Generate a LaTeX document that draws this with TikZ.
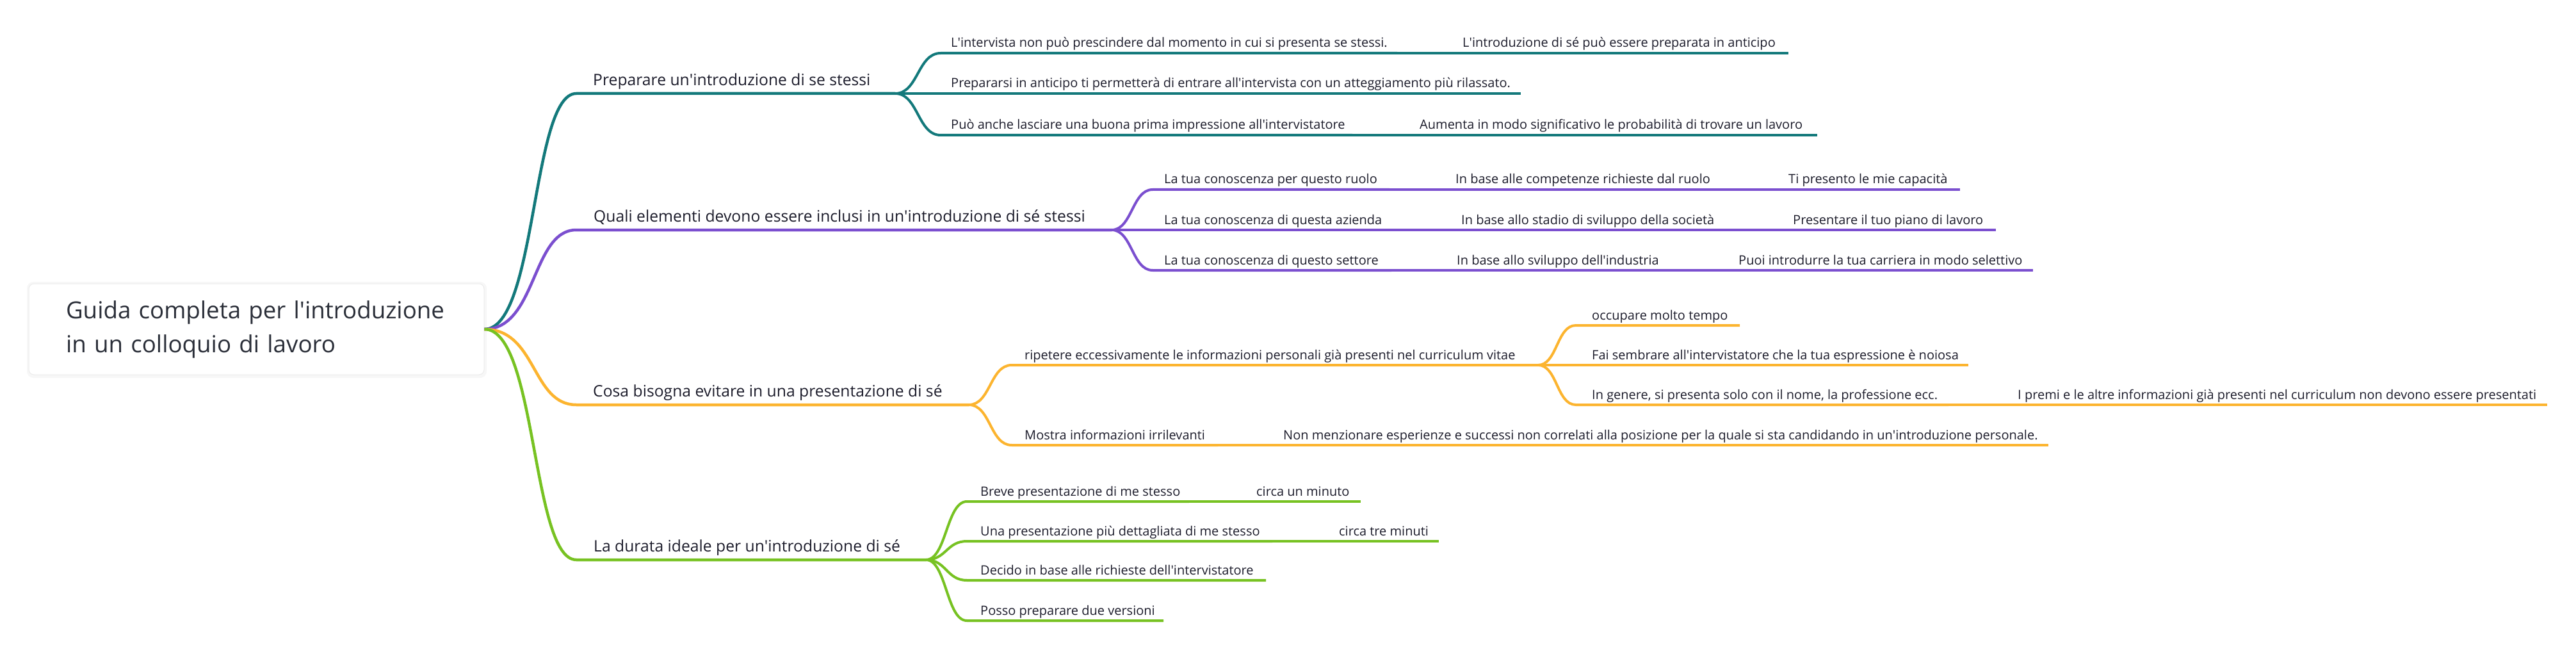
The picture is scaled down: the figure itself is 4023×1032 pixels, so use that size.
\documentclass[tikz,border=0pt]{standalone}
\usepackage{fontspec}
\setmainfont{Open Sans}
\definecolor{teal1}{HTML}{13797B}
\definecolor{purp}{HTML}{7B4FCF}
\definecolor{orng}{HTML}{FCB42F}
\definecolor{grn}{HTML}{77C222}
\definecolor{txt}{HTML}{1C1C2B}
\definecolor{ttl}{HTML}{2A2E38}
\newcommand\ap{\textquotesingle}
\newcommand\mmn[7]{\coordinate (#1-s) at (#3,#6);\coordinate (#1-e) at (#5,#6);\node[#2] (#1) at (#4,#6) {#7};}
\begin{document}
\begin{tikzpicture}[x=1pt,y=-1pt,
  lone/.style={font=\fontsize{24.7}{28}\selectfont, text=txt, inner sep=0pt, anchor=base west, yshift=12.5pt},
  ltwo/.style={font=\fontsize{20}{24}\selectfont, text=txt, inner sep=0pt, anchor=base west, yshift=9pt},
  br/.style={line width=4.5pt},
  sub/.style={line width=4pt},
  rootbox/.style={draw=black!8, line width=1pt, fill=white, rounded corners=8pt, minimum width=711pt, minimum height=142pt, inner xsep=58pt, text width=595pt, align=left, text=ttl, font=\fontsize{36.7}{48}\selectfont}
]
\useasboundingbox (0,0) rectangle (4023,1032);
\fill[black!3, rounded corners=10pt] (42,440) rectangle (760,590);
\node[rootbox] (root) at (400.5,514) {\vspace*{5pt}Guida completa per l\ap introduzione\\in un colloquio di lavoro};

% level 1
\mmn{A}{lone}{900}{926}{1398}{146}{Preparare un\ap introduzione di se stessi}
\mmn{B}{lone}{900}{927}{1736}{359}{Quali elementi devono essere inclusi in un\ap introduzione di sé stessi}
\mmn{C}{lone}{900}{926}{1513}{632}{Cosa bisogna evitare in una presentazione di sé}
\mmn{D}{lone}{900}{927}{1446}{874}{La durata ideale per un\ap introduzione di sé}

% level 2 - A
\mmn{A1}{ltwo}{1469}{1485}{2182}{83}{L\ap intervista non può prescindere dal momento in cui si presenta se stessi.}
\mmn{A1a}{ltwo}{2182}{2284}{2793}{83}{L\ap introduzione di sé può essere preparata in anticipo}
\mmn{A2}{ltwo}{1469}{1485}{2375}{146}{Prepararsi in anticipo ti permetterà di entrare all\ap intervista con un atteggiamento più rilassato.}
\mmn{A3}{ltwo}{1469}{1485}{2112}{211}{Può anche lasciare una buona prima impressione all\ap intervistatore}
\mmn{A3a}{ltwo}{2112}{2217}{2838}{211}{Aumenta in modo significativo le probabilità di trovare un lavoro}

% level 2 - B
\mmn{B1}{ltwo}{1800}{1818}{2170}{296}{La tua conoscenza per questo ruolo}
\mmn{B1a}{ltwo}{2170}{2273}{2691}{296}{In base alle competenze richieste dal ruolo}
\mmn{B1b}{ltwo}{2691}{2793}{3061}{296}{Ti presento le mie capacità}
\mmn{B2}{ltwo}{1800}{1818}{2177}{359}{La tua conoscenza di questa azienda}
\mmn{B2a}{ltwo}{2177}{2282}{2697}{359}{In base allo stadio di sviluppo della società}
\mmn{B2b}{ltwo}{2697}{2800}{3117}{359}{Presentare il tuo piano di lavoro}
\mmn{B3}{ltwo}{1800}{1818}{2173}{422}{La tua conoscenza di questo settore}
\mmn{B3a}{ltwo}{2173}{2275}{2611}{422}{In base allo sviluppo dell\ap industria}
\mmn{B3b}{ltwo}{2611}{2715}{3175}{422}{Puoi introdurre la tua carriera in modo selettivo}

% level 2 - C
\mmn{C1}{ltwo}{1580}{1600}{2402}{570}{ripetere eccessivamente le informazioni personali già presenti nel curriculum vitae}
\mmn{C1a}{ltwo}{2461}{2486}{2717}{508}{occupare molto tempo}
\mmn{C1b}{ltwo}{2461}{2486}{3074}{570}{Fai sembrare all\ap intervistatore che la tua espressione è noiosa}
\mmn{C1c}{ltwo}{2461}{2486}{3043}{632}{In genere, si presenta solo con il nome, la professione ecc.}
\mmn{C1c1}{ltwo}{3043}{3151}{3978}{632}{I premi e le altre informazioni già presenti nel curriculum non devono essere presentati}
\mmn{C2}{ltwo}{1580}{1600}{1902}{695}{Mostra informazioni irrilevanti}
\mmn{C2a}{ltwo}{1902}{2004}{3199}{695}{Non menzionare esperienze e successi non correlati alla posizione per la quale si sta candidando in un\ap introduzione personale.}

% level 2 - D
\mmn{D1}{ltwo}{1510}{1531}{1857}{783}{Breve presentazione di me stesso}
\mmn{D1a}{ltwo}{1857}{1962}{2125}{783}{circa un minuto}
\mmn{D2}{ltwo}{1510}{1531}{1987}{845}{Una presentazione più dettagliata di me stesso}
\mmn{D2a}{ltwo}{1987}{2091}{2247}{845}{circa tre minuti}
\mmn{D3}{ltwo}{1510}{1531}{1977}{906}{Decido in base alle richieste dell\ap intervistatore}
\mmn{D4}{ltwo}{1510}{1531}{1817}{969}{Posso preparare due versioni}

% connectors: root to level 1
\draw[br, teal1] (root.east) .. controls +(82,0) and +(-70,0) .. (A-s) -- (A-e);
\draw[br, purp] (root.east) .. controls +(82,0) and +(-70,0) .. (B-s) -- (B-e);
\draw[br, orng] (root.east) .. controls +(82,0) and +(-70,0) .. (C-s) -- (C-e);
\draw[br, grn] (root.east) .. controls +(82,0) and +(-70,0) .. (D-s) -- (D-e);

% A
\begin{scope}[sub, teal1]
\draw (A-e) .. controls +(36,0) and +(-36,0) .. (A1-s) -- (A1-e);
\draw (A1-e) -- (A1a-e);
\draw (A-e) -- (A2-s) -- (A2-e);
\draw (A-e) .. controls +(36,0) and +(-36,0) .. (A3-s) -- (A3-e);
\draw (A3-e) -- (A3a-e);
\end{scope}
% B
\begin{scope}[sub, purp]
\draw (B-e) .. controls +(32,0) and +(-32,0) .. (B1-s) -- (B1-e);
\draw (B1-e) -- (B1a-s) -- (B1a-e);
\draw (B1a-e) -- (B1b-e);
\draw (B-e) -- (B2-s) -- (B2-e);
\draw (B2-e) -- (B2a-e);
\draw (B2a-e) -- (B2b-e);
\draw (B-e) .. controls +(32,0) and +(-32,0) .. (B3-s) -- (B3-e);
\draw (B3-e) -- (B3a-e);
\draw (B3a-e) -- (B3b-e);
\end{scope}
% C
\begin{scope}[sub, orng]
\draw (C-e) .. controls +(34,0) and +(-34,0) .. (C1-s) -- (C1-e);
\draw (C1-e) .. controls +(30,0) and +(-30,0) .. (C1a-s) -- (C1a-e);
\draw (C1-e) -- (C1b-s) -- (C1b-e);
\draw (C1-e) .. controls +(30,0) and +(-30,0) .. (C1c-s) -- (C1c-e);
\draw (C1c-e) -- (C1c1-e);
\draw (C-e) .. controls +(34,0) and +(-34,0) .. (C2-s) -- (C2-e);
\draw (C2-e) -- (C2a-e);
\end{scope}
% D
\begin{scope}[sub, grn]
\draw (D-e) .. controls +(32,0) and +(-32,0) .. (D1-s) -- (D1-e);
\draw (D1-e) -- (D1a-e);
\draw (D-e) .. controls +(32,0) and +(-32,0) .. (D2-s) -- (D2-e);
\draw (D2-e) -- (D2a-e);
\draw (D-e) .. controls +(32,0) and +(-32,0) .. (D3-s) -- (D3-e);
\draw (D-e) .. controls +(32,0) and +(-32,0) .. (D4-s) -- (D4-e);
\end{scope}
\end{tikzpicture}
\end{document}
